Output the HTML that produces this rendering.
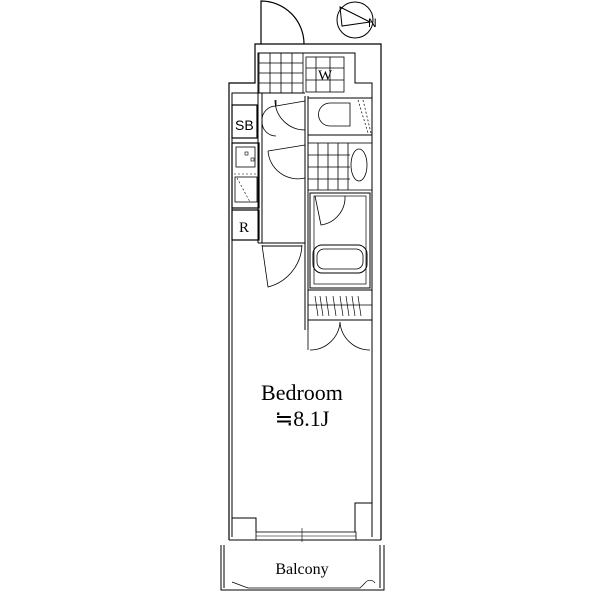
<!DOCTYPE html>
<html><head><meta charset="utf-8"><style>html,body{margin:0;padding:0;background:#fff}svg{display:block}</style></head>
<body>
<svg width="600" height="600" viewBox="0 0 600 600" xmlns="http://www.w3.org/2000/svg" fill="none" stroke="#000" stroke-width="1.2">
<circle cx="355" cy="20" r="18" stroke-width="1"/>
<path d="M340 7 L370 22 L342 26 Z" stroke-width="1"/>
<text x="368" y="27" font-family="Liberation Sans, sans-serif" font-size="12" fill="#000" stroke="none">N</text>
<path d="M261 44 V1 A43 43 0 0 1 304 44"/>
<path d="M229 540 V83 H255 V44 H381 V540"/>
<path d="M232 537 V93 H258 V53 H355 V83 H372 V537" stroke-width="1"/>
<g stroke-width="0.8">
<rect x="259" y="53" width="44" height="40"/>
<path d="M259 63H303M259 73H303M259 83H303M270 53V93M281 53V93M292 53V93"/>
<rect x="306" y="57" width="38" height="35"/>
<path d="M306 68H344M306 80H344M316 57V92M330 57V92"/>
</g>
<text x="318" y="80" font-family="Liberation Serif, serif" font-size="15" fill="#000" stroke="none">W</text>
<path d="M258 93 V243 M262 93 V243 M305 96 V330 M308 96 V330" stroke-width="1"/>
<path d="M258 93 H305" stroke-width="1"/>
<rect x="232" y="105" width="25" height="33"/>
<text x="235" y="130" font-family="Liberation Sans, sans-serif" font-size="14" fill="#000" stroke="none">SB</text>
<path d="M262 120 A14 14 0 0 1 276 106 M262 122 A14 14 0 0 0 276 136" stroke-width="0.8"/>
<path d="M276 106 L305 101 M276 100 V106" stroke-width="0.8"/>
<rect x="308" y="98" width="64" height="37" stroke-width="1"/>
<path d="M330 103 H350 V126 H330 A11.5 11.5 0 0 1 330 103Z" stroke-width="0.8"/>
<path d="M358 100 L368 133 M363 100 L371 133" stroke-width="0.7" stroke-dasharray="2 2"/>
<path d="M305 130 A30 30 0 0 1 275 100" stroke-width="0.8"/>
<rect x="232" y="143" width="27" height="65"/>
<rect x="236" y="147" width="19" height="20" stroke-width="0.8"/>
<rect x="245" y="152" width="3" height="3" stroke-width="0.6"/><rect x="251" y="158" width="3" height="3" stroke-width="0.6"/>
<rect x="235" y="177" width="22" height="25" stroke-width="0.8"/>
<path d="M234 174 H258 V206 M237 178 L250 202" stroke-width="0.6" stroke-dasharray="2 2"/>
<rect x="232" y="210" width="27" height="30"/>
<text x="239" y="232" font-family="Liberation Serif, serif" font-size="15" fill="#000" stroke="none">R</text>
<path d="M268 151 L305 145 M305 178 A30 30 0 0 1 268 151" stroke-width="0.8"/>
<g stroke-width="0.8">
<rect x="308" y="143" width="64" height="47"/>
<path d="M308 155H350M308 167H350M308 179H350M318 143V190M328 143V190M338 143V190M348 143V190"/>
<ellipse cx="359" cy="165" rx="8" ry="16" fill="#fff"/>
</g>
<rect x="310" y="193" width="60" height="95" stroke-width="1"/>
<rect x="314" y="196" width="52" height="88" stroke-width="0.7"/>
<path d="M315 196 L321 225 A28 28 0 0 0 345 196" stroke-width="0.8"/>
<rect x="313" y="245" width="54" height="28" rx="9" stroke-width="1"/>
<rect x="317" y="249" width="46" height="20" rx="7" stroke-width="0.8"/>
<rect x="308" y="290" width="64" height="30" stroke-width="1"/>
<path d="M308 305 H372" stroke-width="0.8"/>
<path d="M315 296 l3 20 M320 296 l3 20 M326 296 l3 20 M333 296 l3 20 M340 296 l3 20 M346 296 l3 20 M352 296 l3 20 M358 296 l3 20" stroke-width="0.7"/>
<path d="M308 320 V350 M340 322 A30 30 0 0 1 310 350 M340 322 A30 30 0 0 0 370 350" stroke-width="0.8"/>
<path d="M258 243 H305 M262 246 H302" stroke-width="1"/>
<path d="M262 245 L268 287 A45 45 0 0 0 302 245" stroke-width="0.8"/>
<path d="M232 518 H256 V532 M372 503 H355 V532" stroke-width="1"/>
<rect x="256" y="532" width="100" height="8" stroke-width="0.8"/>
<path d="M256 536 H356 M302 528 V542" stroke-width="0.6"/>
<path d="M229 540 H381" stroke-width="1"/>
<path d="M221 545 V590 H384 V545 M224 545 V588 M380 545 V588" stroke-width="1"/>
<path d="M232 582 L248 588 H360 L365 583 A6 6 0 0 1 375 583" stroke-width="0.7"/>
<text x="302" y="400" font-family="Liberation Serif, serif" font-size="22" fill="#000" stroke="none" text-anchor="middle">Bedroom</text>
<text x="302" y="426" font-family="Liberation Serif, 'Noto Serif CJK SC', serif" font-size="22" fill="#000" stroke="none" text-anchor="middle">≒8.1J</text>
<text x="302" y="574" font-family="Liberation Serif, serif" font-size="16" fill="#000" stroke="none" text-anchor="middle">Balcony</text>
</svg>
</body></html>
